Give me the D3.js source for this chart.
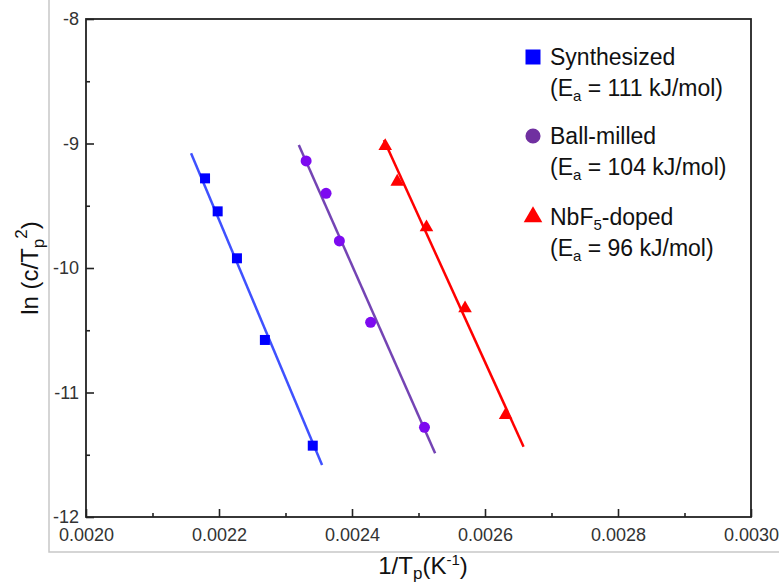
<!DOCTYPE html>
<html>
<head>
<meta charset="utf-8">
<script src="https://cdn.jsdelivr.net/npm/d3@7"></script>
<style>
  html, body { margin: 0; padding: 0; background: #fff; }
  svg { display: block; font-family: "Liberation Sans", Arial, sans-serif; }
</style>
</head>
<body>
<div id="chart"></div>
<script>
// 1/Tp (K^-1) vs ln(c/Tp^2)
const synthX = [0.002179, 0.002198, 0.002227, 0.002269, 0.002341];
const synthY = [-9.28, -9.545, -9.922, -10.578, -11.427];
const ballX = [0.002331, 0.002361, 0.002381, 0.002428, 0.002509];
const ballY = [-9.14, -9.40, -9.783, -10.436, -11.28];
const nbX = [0.002450, 0.002468, 0.002512, 0.002570, 0.002631];
const nbY = [-9.02, -9.307, -9.673, -10.324, -11.181];

// fitted lines: [x0, y0, x1, y1]
const synthFit = [0.002158, -9.079, 0.002355, -11.582];
const ballFit = [0.002320, -9.012, 0.002525, -11.488];
const nbFit = [0.002448, -8.972, 0.002658, -11.435];

const xMajor = [0.0020, 0.0022, 0.0024, 0.0026, 0.0028, 0.0030];
const xMinor = [0.0021, 0.0023, 0.0025, 0.0027, 0.0029];
const yMajor = [-12, -11, -10, -9, -8];
const yMinor = [-11.5, -10.5, -9.5, -8.5];

const seriesNames = ['Synthesized', 'Ball-milled', 'NbF5-doped'];
const seriesEa = ['111', '104', '96'];

const W = 779, H = 586;
const svg = d3.select('#chart').append('svg')
  .attr('width', W).attr('height', H);

const x = d3.scaleLinear().domain([0.0020, 0.0030]).range([86, 751]);
const y = d3.scaleLinear().domain([-12, -8]).range([517, 19]);

// light grey outer border (left + bottom)
svg.append('path')
  .attr('d', `M49,0 V552 H${W}`)
  .attr('fill', 'none').attr('stroke', '#c8c8c8').attr('stroke-width', 1.5);

const series = [
  { xs: synthX, ys: synthY, fit: synthFit, sym: d3.symbolSquare, size: 100, col: '#0000ff', line: '#3f51ff' },
  { xs: ballX, ys: ballY, fit: ballFit, sym: d3.symbolCircle, size: 95, col: '#7d0af0', line: '#7444b4' },
  { xs: nbX, ys: nbY, fit: nbFit, sym: d3.symbolTriangle, size: 80, col: '#ff0000', line: '#ff0000' },
];

series.forEach(s => {
  svg.append('line')
    .attr('x1', x(s.fit[0])).attr('y1', y(s.fit[1]))
    .attr('x2', x(s.fit[2])).attr('y2', y(s.fit[3]))
    .attr('stroke', s.line).attr('stroke-width', 2.5);
  svg.append('g').selectAll('path')
    .data(s.xs.map((v, i) => [v, s.ys[i]]))
    .join('path')
    .attr('transform', d => `translate(${x(d[0])},${y(d[1])})`)
    .attr('d', d3.symbol(s.sym, s.size))
    .attr('fill', s.col);
});

// axes with inward ticks
const gx = svg.append('g').attr('transform', 'translate(0,517)')
  .call(d3.axisBottom(x).tickValues(xMajor).tickSizeInner(-8).tickSizeOuter(0)
    .tickPadding(11).tickFormat(d3.format('.4f')));
svg.append('g').attr('transform', 'translate(0,517)')
  .call(d3.axisBottom(x).tickValues(xMinor).tickSizeInner(-4).tickSizeOuter(0).tickFormat(''));
const gy = svg.append('g').attr('transform', 'translate(86,0)')
  .call(d3.axisLeft(y).tickValues(yMajor).tickSizeInner(-8).tickSizeOuter(0)
    .tickPadding(7).tickFormat(d3.format('d')));
svg.append('g').attr('transform', 'translate(86,0)')
  .call(d3.axisLeft(y).tickValues(yMinor).tickSizeInner(-4).tickSizeOuter(0).tickFormat(''));

svg.selectAll('.domain').remove();
svg.selectAll('.tick line').attr('stroke', '#222').attr('stroke-width', 1.6);
gx.selectAll('text').attr('font-size', 18).attr('fill', '#333').attr('font-family', null);
gy.selectAll('text').attr('font-size', 18).attr('fill', '#333').attr('font-family', null)
  .text(d => d3.format('d')(d).replace('−', '-'));

// frame
svg.append('rect')
  .attr('x', 86).attr('y', 19).attr('width', 751 - 86).attr('height', 517 - 19)
  .attr('fill', 'none').attr('stroke', '#222').attr('stroke-width', 1.8);

// axis titles
const xt = svg.append('text').attr('x', 423).attr('y', 574)
  .attr('text-anchor', 'middle').attr('font-size', 24).attr('fill', '#111');
xt.append('tspan').text('1/T');
xt.append('tspan').attr('dy', 5).attr('font-size', 17).text('p');
xt.append('tspan').attr('dy', -5).text('(K');
xt.append('tspan').attr('dy', -9).attr('font-size', 15).text('-1');
xt.append('tspan').attr('dy', 9).text(')');

const yt = svg.append('text').attr('transform', 'translate(38,268) rotate(-90)')
  .attr('text-anchor', 'middle').attr('font-size', 24).attr('fill', '#111');
yt.append('tspan').text('ln (c/T');
yt.append('tspan').attr('dy', 6).attr('font-size', 17).text('p');
yt.append('tspan').attr('dy', -17).attr('font-size', 17).text('2');
yt.append('tspan').attr('dy', 11).text(')');

// legend
const legSyms = [
  { sym: d3.symbolSquare, size: 225, col: '#0000ff' },
  { sym: d3.symbolCircle, size: 180, col: '#7030a0' },
  { sym: d3.symbolTriangle, size: 150, col: '#ff0000' },
];
const legY = [57, 136, 217];
seriesNames.forEach((name, i) => {
  const cy = legY[i];
  svg.append('path')
    .attr('transform', `translate(533,${cy})`)
    .attr('d', d3.symbol(legSyms[i].sym, legSyms[i].size))
    .attr('fill', legSyms[i].col);
  const t1 = svg.append('text').attr('x', 550).attr('y', cy + 8)
    .attr('font-size', 23).attr('fill', '#111');
  if (name === 'NbF5-doped') {
    t1.append('tspan').text('NbF');
    t1.append('tspan').attr('dy', 5).attr('font-size', 15).text('5');
    t1.append('tspan').attr('dy', -5).text('-doped');
  } else {
    t1.text(name);
  }
  const t2 = svg.append('text').attr('x', 550).attr('y', cy + 39)
    .attr('font-size', 23).attr('fill', '#111');
  t2.append('tspan').text('(E');
  t2.append('tspan').attr('dy', 5).attr('font-size', 15).text('a');
  t2.append('tspan').attr('dy', -5).text(` = ${seriesEa[i]} kJ/mol)`);
});
</script>
</body>
</html>
